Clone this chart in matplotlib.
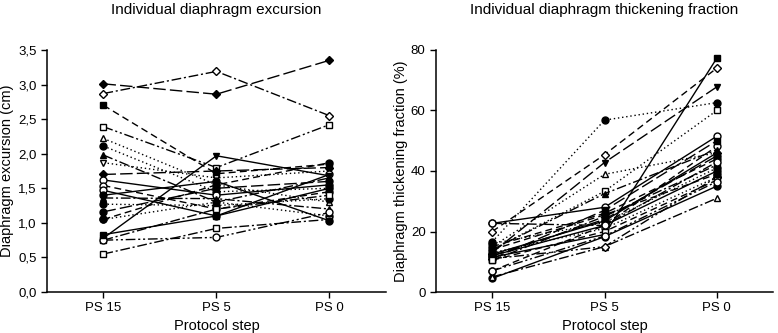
import numpy as np
import matplotlib
matplotlib.use('Agg')
import matplotlib.pyplot as plt
from matplotlib.ticker import FuncFormatter

plt.rcParams['font.family'] = ['Liberation Sans', 'DejaVu Sans']

steps = ['PS 15', 'PS 5', 'PS 0']

# ---- diaphragm excursion (cm), one row per patient: PS15, PS5, PS0
excursion = [
    [3.01, 2.86, 3.35],
    [2.87, 3.19, 2.55],
    [2.70, 1.71, 1.85],
    [2.39, 1.80, 2.42],
    [2.22, 1.55, 1.30],
    [2.11, 1.45, 1.50],
    [1.98, 1.30, 1.65],
    [1.87, 1.65, 1.75],
    [1.70, 1.75, 1.80],
    [1.62, 1.40, 1.55],
    [1.54, 1.20, 1.45],
    [1.47, 1.10, 1.70],
    [1.36, 1.35, 1.20],
    [1.27, 1.25, 1.35],
    [1.16, 1.50, 1.60],
    [1.05, 1.30, 1.10],
    [0.78, 1.97, 1.68],
    [0.75, 1.20, 1.40],
    [0.55, 0.92, 1.05],
    [0.75, 0.79, 1.15],
    [0.83, 1.10, 1.50],
    [1.05, 1.55, 1.87],
    [1.40, 1.60, 1.03],
]
exc_markers = ['D', 'd_open', 's', 's_open', '^_open', 'o', '^', 'v_open', 'D',
               'o_open', 'o_open', 'o_open', '^', 'o', 'o', 'o', 'v', 's_open',
               's_open', 'o_open', 's', 'o', 'o']
exc_styles = ['longdash', 'dashdot', 'dash', 'dashdotdot', 'dot', 'dot', 'dashdot',
              'dot', 'longdash', 'solid', 'dash', 'solid', 'dashdot', 'dot',
              'longdash', 'dot', 'solid', 'dashdot', 'dashdot', 'dashdotdot',
              'solid', 'dash', 'solid']

# ---- diaphragm thickening fraction (%)
thickening = [
    [11.5, 19.0, 77.3],
    [20.0, 45.4, 74.0],
    [22.7, 28.0, 51.5],
    [13.0, 42.8, 67.8],
    [16.6, 56.8, 62.6],
    [14.0, 33.3, 60.0],
    [15.0, 38.9, 46.0],
    [7.0, 22.0, 48.2],
    [4.5, 18.3, 35.0],
    [5.0, 15.0, 31.0],
    [11.0, 15.0, 38.0],
    [12.0, 24.0, 45.0],
    [10.5, 25.0, 42.0],
    [12.0, 22.0, 40.0],
    [15.0, 26.0, 44.0],
    [13.0, 21.0, 38.0],
    [14.0, 32.5, 47.0],
    [11.0, 27.0, 50.0],
    [16.0, 23.0, 41.0],
    [12.5, 23.5, 46.0],
    [10.5, 20.0, 37.0],
    [22.7, 22.0, 43.0],
    [14.0, 25.5, 39.0],
    [7.0, 18.5, 36.5],
]
thk_markers = ['s', 'd_open', 'o_open', 'v', 'o', 's_open', '^_open', 'o_open',
               'o', '^_open', 'd_open', 'o', 's', 'o', 'o', 'o_open', '^', 's',
               'o', 'D', 's_open', 'o_open', 'o', 'o_open']
thk_styles = ['solid', 'dash', 'solid', 'longdash', 'dot', 'dot', 'dot', 'dash',
              'solid', 'dashdot', 'dashdotdot', 'longdash', 'dashdot', 'solid',
              'dash', 'dot', 'dashdot', 'longdash', 'dot', 'solid', 'dash',
              'dashdot', 'dash', 'dashdotdot']

dash_map = {
    'solid': '-',
    'dash': (0, (5, 3)),
    'longdash': (0, (9, 3)),
    'dashdot': (0, (7, 2, 1.5, 2)),
    'dashdotdot': (0, (7, 2, 1.5, 2, 1.5, 2)),
    'dot': (0, (1, 2)),
}


def draw(ax, data, markers, styles):
    x = np.arange(len(steps))
    for row, m, ls in zip(data, markers, styles):
        shape = m.split('_')[0]
        if shape == 'd':
            shape = 'D'
        face = 'white' if m.endswith('_open') else 'black'
        ms = 4.3 if shape == 'D' else 5
        ax.plot(x, row, color='black', lw=1.0, linestyle=dash_map[ls],
                marker=shape, ms=ms, mfc=face, mec='black', mew=1.0)
    ax.set_xlim(-0.5, 2.5)
    ax.set_xticks(x)
    ax.set_xticklabels(steps)
    ax.spines['top'].set_visible(False)
    ax.spines['right'].set_visible(False)
    ax.spines['left'].set_linewidth(1.1)
    ax.spines['bottom'].set_linewidth(1.1)
    ax.tick_params(direction='out', length=4, width=1.0, labelsize=9.5)
    ax.set_xlabel('Protocol step', fontsize=10.5, labelpad=3)


fig = plt.figure(figsize=(7.78, 3.33), dpi=100)
ax1 = fig.add_axes([0.0604, 0.123, 0.4356, 0.727])
ax2 = fig.add_axes([0.5604, 0.123, 0.4332, 0.727])

draw(ax1, excursion, exc_markers, exc_styles)
ax1.set_ylim(0, 3.5)
ax1.set_yticks(np.arange(0, 3.51, 0.5))
ax1.yaxis.set_major_formatter(FuncFormatter(lambda v, p: f'{v:.1f}'.replace('.', ',')))
ax1.set_ylabel('Diaphragm excursion (cm)', fontsize=10.5, labelpad=3)
ax1.set_title('Individual diaphragm excursion', fontsize=11, pad=26)

draw(ax2, thickening, thk_markers, thk_styles)
ax2.set_ylim(0, 80)
ax2.set_yticks([0, 20, 40, 60, 80])
ax2.set_ylabel('Diaphragm thickening fraction (%)', fontsize=10.5, labelpad=2)
ax2.set_title('Individual diaphragm thickening fraction', fontsize=11, pad=26)

fig.savefig('out.png', dpi=100)
